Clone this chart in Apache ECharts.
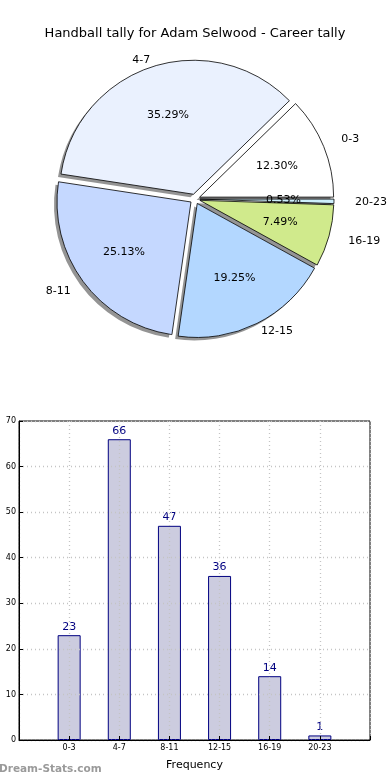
<!DOCTYPE html>
<html>
<head>
<meta charset="utf-8">
<script src="https://cdn.jsdelivr.net/npm/echarts@6/dist/echarts.min.js"></script>
<style>html,body{margin:0;padding:0;background:#fff;}#c{width:390px;height:780px;}</style>
</head>
<body>
<div id="c"></div>
<script>
const titleText = 'Handball tally for Adam Selwood - Career tally';
const categories = ['0-3', '4-7', '8-11', '12-15', '16-19', '20-23'];
const tallies = [23, 66, 47, 36, 14, 1];
const sliceColors = ['#ffffff', '#eaf1fe', '#c5d8ff', '#b3d7ff', '#d0ea8c', '#cdeffc'];
const yTicks = [0, 10, 20, 30, 40, 50, 60, 70];
const xAxisName = 'Frequency';
const watermark = 'Dream-Stats.com';

const FONT = 'DejaVu Sans';
const R = 134;
const CENTER = [195, 199];
// the original pie is drawn slightly elliptical; push outer labels to follow that shape
const RX = 141, RY = 127;
const total = tallies.reduce((a, b) => a + b, 0);
let acc = 0;
const labelLens = tallies.map(v => {
  const mid = (acc + v / 2) / total * 2 * Math.PI;
  acc += v;
  const d = 1.1 * Math.hypot(RX * Math.cos(mid), RY * Math.sin(mid));
  return Math.max(2, d - R);
});

const pieData = categories.map((c, i) => ({
  name: c, value: tallies[i], selected: true,
  itemStyle: { color: sliceColors[i] },
  labelLine: { show: false, length: labelLens[i], length2: 0 }
}));
const shadowData = categories.map((c, i) => ({ name: c, value: tallies[i], selected: true }));
const pctData = categories.map((c, i) => ({ name: c, value: tallies[i], selected: true }));

const chart = echarts.init(document.getElementById('c'), null, { renderer: 'canvas' });
chart.setOption({
  animation: false,
  backgroundColor: '#fff',
  title: {
    text: titleText, left: 'center', top: 22,
    textStyle: { fontFamily: FONT, fontSize: 13, fontWeight: 'normal', color: '#000' }
  },
  graphic: [{
    type: 'text', left: -1, top: 764, z: 10,
    style: { text: watermark, fill: '#9a9a9a', font: 'bold 10.5px "' + FONT + '"' }
  }],
  grid: {
    left: 19, right: 20, top: 421, bottom: 40, show: true,
    borderColor: '#000', borderWidth: 1, backgroundColor: 'transparent'
  },
  xAxis: {
    type: 'value', min: 0, max: 7, interval: 1, z: 5,
    name: xAxisName, nameLocation: 'middle', nameGap: 20,
    nameTextStyle: { fontFamily: FONT, fontSize: 11, color: '#000' },
    axisLine: { show: true, lineStyle: { color: '#000' } },
    axisTick: { show: true, inside: true, length: 4, lineStyle: { color: '#000' } },
    axisLabel: {
      fontFamily: FONT, fontSize: 8, color: '#000', margin: 4,
      formatter: v => (v >= 1 && v <= categories.length) ? categories[v - 1] : ''
    },
    splitLine: { show: true, lineStyle: { color: '#c4c4c4', type: [1, 3], width: 1.3 } }
  },
  yAxis: {
    type: 'value', min: yTicks[0], max: yTicks[yTicks.length - 1], interval: 10, z: 5,
    axisLine: { show: true, lineStyle: { color: '#000' } },
    axisTick: { show: true, inside: true, length: 4, lineStyle: { color: '#000' } },
    axisLabel: { fontFamily: FONT, fontSize: 8, color: '#000', margin: 3 },
    splitLine: { show: true, lineStyle: { color: '#c4c4c4', type: [1, 3], width: 1.3 } }
  },
  series: [
    {
      type: 'pie', center: [CENTER[0] - 3, CENTER[1] + 3], radius: R, z: 1,
      startAngle: 0, clockwise: false,
      selectedMode: 'multiple', selectedOffset: 5,
      avoidLabelOverlap: false, silent: true,
      itemStyle: { color: 'rgba(0,0,0,0.42)', borderWidth: 0 },
      label: { show: false }, labelLine: { show: false },
      emphasis: { disabled: true },
      data: shadowData
    },
    {
      type: 'pie', center: CENTER, radius: R, z: 2,
      startAngle: 0, clockwise: false,
      selectedMode: 'multiple', selectedOffset: 5,
      avoidLabelOverlap: false, silent: true,
      itemStyle: { borderColor: '#000', borderWidth: 0.8 },
      label: {
        show: true, position: 'outside', formatter: '{b}',
        fontFamily: FONT, fontSize: 11, color: '#000', distanceToLabelLine: 0
      },
      labelLine: { show: false, length: 13, length2: 0 },
      emphasis: { disabled: true },
      data: pieData
    },
    {
      type: 'pie', center: CENTER, radius: [0, R * 1.2], z: 3,
      startAngle: 0, clockwise: false,
      selectedMode: 'multiple', selectedOffset: 5,
      avoidLabelOverlap: false, silent: true,
      itemStyle: { color: 'rgba(0,0,0,0)', borderWidth: 0 },
      label: {
        show: true, position: 'inside',
        formatter: p => (p.value / total * 100).toFixed(2) + '%',
        fontFamily: FONT, fontSize: 11, color: '#000'
      },
      labelLine: { show: false },
      emphasis: { disabled: true },
      data: pctData
    },
    {
      type: 'bar', z: 2,
      barWidth: 23,
      itemStyle: { color: '#ccccdf', borderColor: '#000080', borderWidth: 1 },
      label: { show: true, position: 'top', distance: 3, fontFamily: FONT, fontSize: 11, color: '#000080' },
      data: categories.map((c, i) => [i + 1, tallies[i]])
    }
  ]
});
</script>
</body>
</html>
